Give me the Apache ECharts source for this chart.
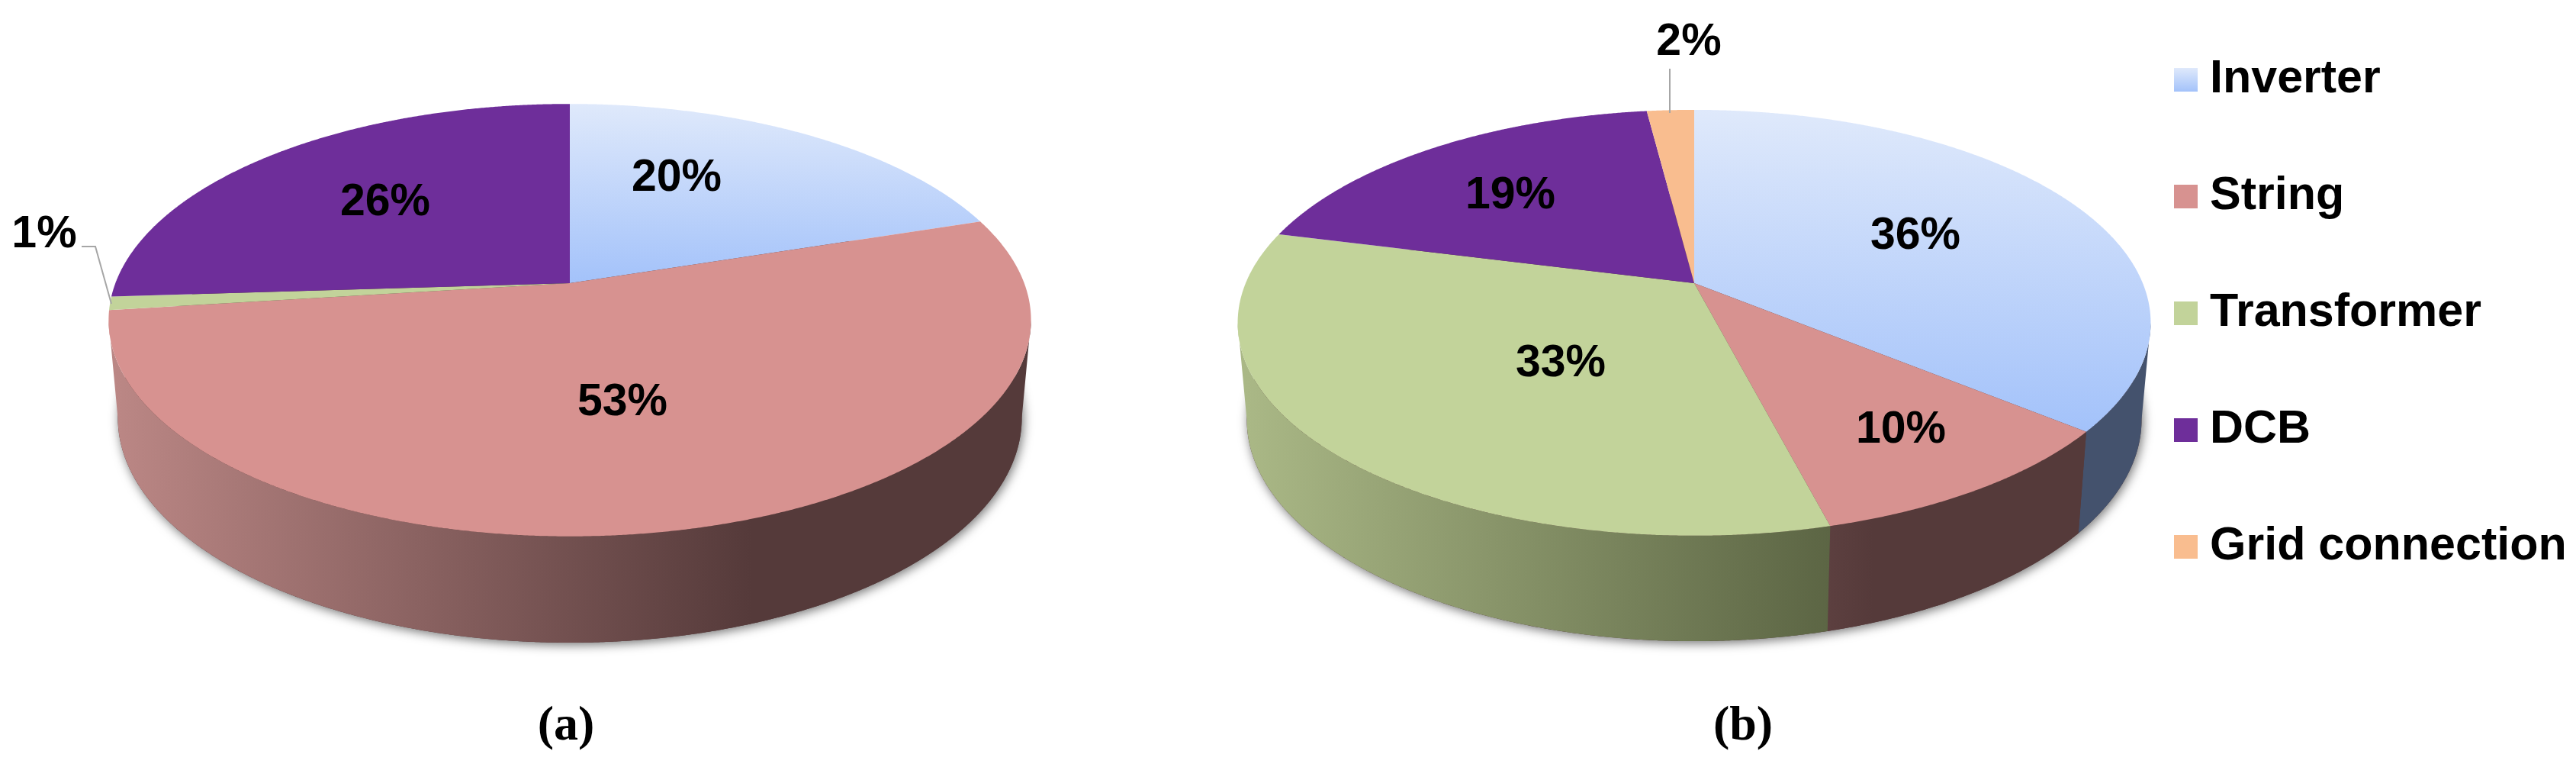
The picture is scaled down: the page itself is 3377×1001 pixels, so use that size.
<!DOCTYPE html>
<html>
<head>
<meta charset="utf-8">
<style>
    html, body { margin: 0; padding: 0; background: #fff; }
    #main { width: 3377px; height: 1001px; }
</style>
<script src="https://cdn.jsdelivr.net/npm/echarts@6/dist/echarts.min.js"></script>
</head>
<body>
<div id="main"></div>
<script>
    // values, percent
    const categories = ['Inverter', 'String', 'Transformer', 'DCB', 'Grid connection'];
    const pieAValues = [20, 53, 1, 26, 0];
    const pieBValues = [36, 10, 33, 19, 2];
    const captions = ['(a)', '(b)'];

    const topColors = ['#a3c2fa', '#d79290', '#c2d39a', '#6e2e9a', '#f9bd8f'];
    const wallLight = ['#44526d', '#bb8785', '#aab886', '#3a1a52', '#8a6a50'];
    const wallDark = ['#44526d', '#553a3a', '#565f3f', '#3a1a52', '#8a6a50'];

    // perspective ellipse of each pie: apex position, radii and foreshortening
    const pieShapes = [
        {cx: 747, cy: 371, a: 595.7, b: 275, k: 0.171, depth: 126},
        {cx: 2221, cy: 371, a: 588, b: 269.3, k: 0.186, depth: 125}
    ];
    const labelSpots = [
        [[887, 234], [816, 528], [58, 308], [505, 266], null],
        [[2511, 310], [2492, 564], [2046, 477], [1980, 257], [2214, 56]]
    ];
    const pieValues = [pieAValues, pieBValues];

    function project(pie, theta, lower) {
        const u = Math.sin(theta), v = -Math.cos(theta);
        const w = 1 - pie.k * v;
        if (lower) {
            return [pie.cx + 0.98 * pie.a * u / w, pie.cy + pie.depth + 1.04 * pie.b * v / w];
        }
        return [pie.cx + pie.a * u / w, pie.cy + pie.b * v / w];
    }

    function arc(pie, from, to, lower) {
        const points = [];
        const steps = Math.max(2, Math.ceil(Math.abs(to - from) / 0.004));
        for (let i = 0; i <= steps; i++) {
            points.push(project(pie, from + (to - from) * i / steps, lower));
        }
        return points;
    }

    function sliceAngles(values, index) {
        const total = values.reduce((s, v) => s + v, 0);
        const before = values.slice(0, index).reduce((s, v) => s + v, 0);
        return [before / total * Math.PI * 2, (before + values[index]) / total * Math.PI * 2];
    }

    function renderSlice(params, api) {
        const pieIndex = api.value(0), index = api.value(1);
        const values = pieValues[pieIndex];
        if (!values[index]) {
            return null;
        }
        const pie = pieShapes[pieIndex];
        const [start, end] = sliceAngles(values, index);
        const children = [];

        // side wall, only the part that faces the viewer
        const visible = Math.acos(-pie.k);
        const wallFrom = Math.max(start, visible);
        const wallTo = Math.min(end, Math.PI * 2 - visible);
        if (wallTo > wallFrom) {
            const left = pie.cx - pie.a, right = pie.cx + pie.a;
            children.push({
                type: 'polygon',
                z2: 1,
                shape: {points: arc(pie, wallFrom, wallTo, false).concat(arc(pie, wallTo, wallFrom, true))},
                style: {
                    fill: {
                        type: 'linear', x: left, y: 0, x2: right, y2: 0, global: true,
                        colorStops: [
                            {offset: 0, color: wallLight[index]},
                            {offset: 0.7, color: wallDark[index]},
                            {offset: 1, color: wallDark[index]}
                        ]
                    }
                }
            });
        }

        // top face
        const fill = index === 0 ? {
            type: 'linear', x: 0, y: 0, x2: 0, y2: 1,
            colorStops: [{offset: 0, color: '#dfe9fb'}, {offset: 1, color: '#a3c2fa'}]
        } : topColors[index];
        children.push({
            type: 'polygon',
            z2: 10,
            shape: {points: [[pie.cx, pie.cy]].concat(arc(pie, start, end, false))},
            style: {fill: fill}
        });

        const spot = labelSpots[pieIndex][index];
        children.push({
            type: 'text',
            z2: 20,
            x: spot[0],
            y: spot[1],
            style: {
                text: values[index] + '%',
                fill: '#000',
                font: 'bold 59px "Liberation Sans"',
                align: 'center',
                verticalAlign: 'middle'
            }
        });
        return {type: 'group', children: children};
    }

    function renderBase(params, api) {
        const pie = pieShapes[api.value(0)];
        return {
            type: 'polygon',
            shape: {points: arc(pie, 0, Math.PI * 2, true)},
            style: {
                fill: '#553a3a',
                shadowColor: 'rgba(0,0,0,0.55)',
                shadowBlur: 14,
                shadowOffsetX: 2,
                shadowOffsetY: 3
            }
        };
    }

    const series = categories.map((name, i) => ({
        name: name,
        type: 'custom',
        coordinateSystem: 'none',
        silent: true,
        itemStyle: {
            color: i === 0 ? {
                type: 'linear', x: 0, y: 0, x2: 0, y2: 1,
                colorStops: [{offset: 0, color: '#dfe9fb'}, {offset: 1, color: '#a3c2fa'}]
            } : topColors[i]
        },
        renderItem: renderSlice,
        data: [[0, i], [1, i]]
    }));
    series.unshift({
        name: 'base',
        type: 'custom',
        coordinateSystem: 'none',
        silent: true,
        z: 1,
        renderItem: renderBase,
        data: [[0], [1]]
    });

    let myChart = echarts.init(document.getElementById('main'), null, {renderer: 'canvas'});
    myChart.setOption({
        animation: false,
        backgroundColor: '#fff',
        legend: {
            data: categories,
            orient: 'vertical',
            left: 2850,
            top: 74,
            padding: 0,
            itemWidth: 31,
            itemHeight: 31,
            itemGap: 92,
            icon: 'rect',
            selectedMode: false,
            textStyle: {
                color: '#000',
                fontFamily: 'Liberation Sans',
                fontWeight: 'bold',
                fontSize: 61,
                lineHeight: 58,
                padding: [2, 0, 0, 11]
            }
        },
        graphic: [
            {
                type: 'polyline',
                z: 5,
                shape: {points: [[107, 323], [125, 323], [146, 398]]},
                style: {stroke: '#a6a6a6', lineWidth: 2, fill: 'none'}
            },
            {
                type: 'line',
                z: 5,
                shape: {x1: 2189, y1: 90, x2: 2189, y2: 148},
                style: {stroke: '#a6a6a6', lineWidth: 2}
            },
            {
                type: 'text',
                x: 742,
                y: 952,
                style: {
                    text: captions[0], fill: '#000', font: 'bold 64px "Liberation Serif"',
                    align: 'center', verticalAlign: 'middle'
                }
            },
            {
                type: 'text',
                x: 2285,
                y: 952,
                style: {
                    text: captions[1], fill: '#000', font: 'bold 64px "Liberation Serif"',
                    align: 'center', verticalAlign: 'middle'
                }
            }
        ],
        series: series
    });
</script>
</body>
</html>
